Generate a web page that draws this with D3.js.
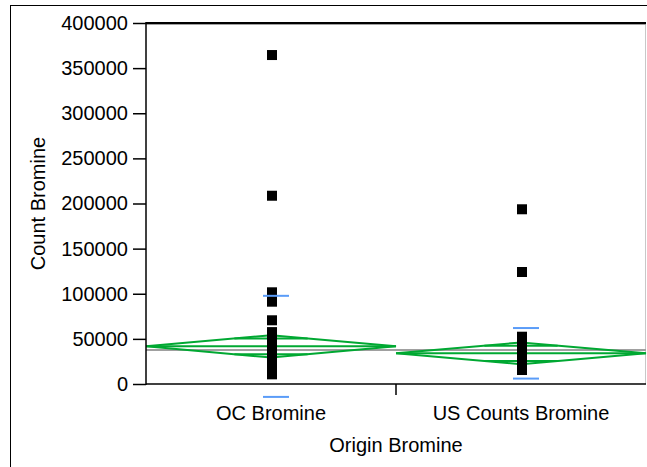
<!DOCTYPE html>
<html>
<head>
<meta charset="utf-8">
<script src="https://cdn.jsdelivr.net/npm/d3@7"></script>
<style>
  body { margin: 0; background: #fff; }
  text { font-family: "Liberation Sans", Arial, sans-serif; fill: #000; }
</style>
</head>
<body>
<svg id="chart" width="647" height="467"></svg>
<script>
// Groups on the x axis
const groups = ["OC Bromine", "US Counts Bromine"];

// Individual bromine counts per origin
const ocCounts = [364500, 208600, 101600, 91200, 70600,
  57500, 54800, 52100, 49600, 47300, 45200, 43800, 42100, 40500, 39200,
  37600, 36300, 35000, 33900, 32700, 31800, 30600, 29500, 28700, 27600,
  26800, 25900, 25100, 24300, 23400, 22600, 21800, 21000, 20200, 19400,
  18700, 17900, 17200, 16400, 15700, 15000, 14300, 13600, 12900, 12300,
  11800, 11200, 10700];
const usCounts = [193600, 124100,
  52400, 50100, 48300, 46200, 44700, 42900, 41500, 40200, 38800, 37400,
  36100, 34900, 33600, 32400, 31300, 30200, 29100, 28200, 27300, 26400,
  25500, 24700, 23900, 23100, 22300, 21600, 20900, 20200, 19500, 18900,
  18300, 17700, 17100, 16500, 16000, 15500];

// Group summaries: means, 95% CI half-widths, standard deviations
const groupMeans = [41700, 34000];
const meanCIHalf = [12400, 12000];
const groupStdDev = [56000, 28000];
const grandMean = 37700;

// Y axis ticks
const yTicks = [0, 50000, 100000, 150000, 200000, 250000, 300000, 350000, 400000];

const groupData = [ocCounts, usCounts];
const svg = d3.select("#chart");
const plot = { left: 146, right: 646, top: 23, bottom: 384 };
const fontSize = 20;

const x = d3.scaleBand().domain(groups).range([plot.left, plot.right]).padding(0);
const y = d3.scaleLinear().domain([0, 400000]).range([plot.bottom, plot.top]);
const bw = x.bandwidth();

// Outer report frame
svg.append("rect")
  .attr("x", 10.5).attr("y", 5.5).attr("width", 700).attr("height", 500)
  .attr("fill", "none").attr("stroke", "#000").attr("stroke-width", 1);

// Plot frame: light right edge, heavy top edge
svg.append("line")
  .attr("x1", plot.right - 0.5).attr("x2", plot.right - 0.5)
  .attr("y1", plot.top).attr("y2", plot.bottom)
  .attr("stroke", "#c8c8c8").attr("stroke-width", 1);
svg.append("line")
  .attr("x1", plot.left).attr("x2", plot.right)
  .attr("y1", plot.top + 1.5).attr("y2", plot.top + 1.5)
  .attr("stroke", "#a0a0a0").attr("stroke-width", 1);
svg.append("line")
  .attr("x1", plot.left).attr("x2", plot.right)
  .attr("y1", plot.top).attr("y2", plot.top)
  .attr("stroke", "#000").attr("stroke-width", 2);

// Grand mean reference line
svg.append("line")
  .attr("x1", plot.left).attr("x2", plot.right)
  .attr("y1", y(grandMean)).attr("y2", y(grandMean))
  .attr("stroke", "#a0a0a0").attr("stroke-width", 2);

// Means diamonds with overlap marks
const green = "#00a832";
groups.forEach((g, i) => {
  const x0 = x(g), x1 = x0 + bw, xc = x0 + bw / 2;
  const m = groupMeans[i], h = meanCIHalf[i];
  const gD = svg.append("g").attr("fill", "none").attr("stroke", green).attr("stroke-width", 2);
  gD.append("path").attr("d", d3.line()([
    [x0, y(m)], [xc, y(m + h)], [x1, y(m)], [xc, y(m - h)], [x0, y(m)]
  ]));
  gD.append("line").attr("x1", x0).attr("x2", x1).attr("y1", y(m)).attr("y2", y(m));
  const off = h / Math.SQRT2;
  const hw = (bw / 2) * (1 - 1 / Math.SQRT2);
  [m + off, m - off].forEach(v => {
    gD.append("line").attr("x1", xc - hw).attr("x2", xc + hw).attr("y1", y(v)).attr("y2", y(v));
  });
});

// Data points
groups.forEach((g, i) => {
  const xc = x(g) + bw / 2 + 1;
  svg.append("g").selectAll("rect").data(groupData[i]).join("rect")
    .attr("x", xc - 5).attr("y", d => y(d) - 5)
    .attr("width", 10).attr("height", 10)
    .attr("fill", "#000");
});

// Standard deviation lines
groups.forEach((g, i) => {
  const xc = x(g) + bw / 2 + 5;
  [groupMeans[i] + groupStdDev[i], groupMeans[i] - groupStdDev[i]].forEach(v => {
    svg.append("line")
      .attr("x1", xc - 13).attr("x2", xc + 13)
      .attr("y1", y(v)).attr("y2", y(v))
      .attr("stroke", "#5a9cf8").attr("stroke-width", 2);
  });
});

// Y axis
const yAxis = svg.append("g")
  .attr("transform", `translate(${plot.left},0)`)
  .call(d3.axisLeft(y).tickValues(yTicks).tickSize(13).tickPadding(5).tickFormat(d3.format("d")));
yAxis.select(".domain").remove();
yAxis.selectAll(".tick line").attr("stroke", "#000").attr("stroke-width", 1.5);
yAxis.selectAll(".tick text").attr("font-size", fontSize).attr("font-family", null);
svg.append("line")
  .attr("x1", plot.left).attr("x2", plot.left)
  .attr("y1", plot.top - 1).attr("y2", plot.bottom + 1)
  .attr("stroke", "#000").attr("stroke-width", 1.5);

// X axis
const xAxis = svg.append("g")
  .attr("transform", `translate(0,${plot.bottom})`)
  .call(d3.axisBottom(x).tickSize(0).tickPadding(22));
xAxis.select(".domain").remove();
xAxis.selectAll(".tick text").attr("font-size", fontSize).attr("font-family", null);
svg.append("line")
  .attr("x1", plot.left).attr("x2", plot.right)
  .attr("y1", plot.bottom).attr("y2", plot.bottom)
  .attr("stroke", "#000").attr("stroke-width", 1.5);
// Divider tick between groups
svg.append("line")
  .attr("x1", x(groups[1])).attr("x2", x(groups[1]))
  .attr("y1", plot.bottom).attr("y2", plot.bottom + 11)
  .attr("stroke", "#000").attr("stroke-width", 1.5);

// Axis titles
svg.append("text")
  .attr("x", (plot.left + plot.right) / 2).attr("y", 452)
  .attr("text-anchor", "middle").attr("font-size", fontSize)
  .text("Origin Bromine");
svg.append("text")
  .attr("transform", `translate(45,${(plot.top + plot.bottom) / 2}) rotate(-90)`)
  .attr("text-anchor", "middle").attr("font-size", fontSize)
  .text("Count Bromine");
</script>
</body>
</html>
